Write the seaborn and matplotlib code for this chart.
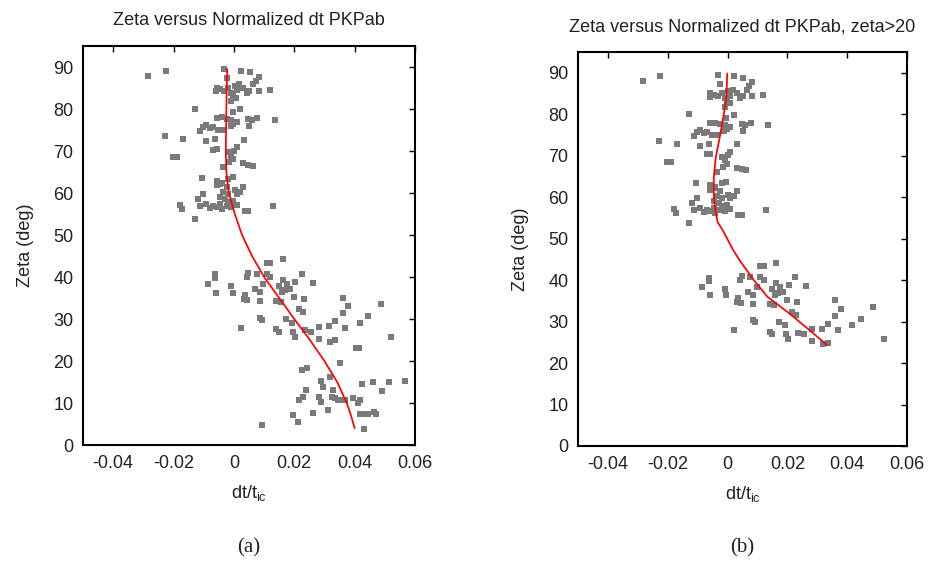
import matplotlib
matplotlib.use("Agg")
import matplotlib.pyplot as plt
import pandas as pd
import seaborn as sns

# ---------------- data ----------------
dt = [
    -0.0284, -0.0225, -0.0033, 0.0023, 0.0053, 0.0083, -0.0024,
    -0.0057, -0.0060, -0.0046, -0.0033, -0.0019, -0.0008, 0.0003, 0.0009, 0.0018, 0.0031,
    0.0042, 0.0051, 0.0064, 0.0072, 0.0083, 0.0119, -0.0002, -0.0008, 0.0007,
    -0.0129, 0.0020, -0.0004,
    -0.0057, -0.0041, -0.0024, -0.0008, -0.0002, 0.0009, -0.0011, 0.0047, 0.0059, 0.0077,
    0.0051, 0.0136, -0.0091, -0.0102, -0.0080, -0.0068, -0.0052, -0.0035, -0.0113,
    -0.0229, -0.0168, -0.0091, -0.0061, 0.0033,
    0.0009, 0.0001, -0.0068, -0.0057, -0.0019, -0.0008, -0.0002, -0.0015, -0.0201, -0.0190,
    0.0031, 0.0047, 0.0062, -0.0035,
    -0.0107, -0.0057, -0.0041, -0.0019, -0.0004, -0.0057, -0.0046, -0.0024, 0.0031, 0.0020,
    0.0003, -0.0035, -0.0019, 0.0009, -0.0102, -0.0118, -0.0046, -0.0030, -0.0019, -0.0002,
    -0.0179, -0.0173, -0.0113, -0.0091, -0.0080, -0.0068, -0.0046, -0.0024, -0.0008, 0.0009,
    0.0128, 0.0036, 0.0047, -0.0057, -0.0041, -0.0129,
    0.0108, 0.0121, -0.0063, -0.0063, -0.0085, -0.0060, -0.0008, -0.0004, 0.0042, 0.0047,
    0.0075, 0.0108, 0.0121, 0.0097, 0.0070, 0.0086, 0.0036, 0.0033, 0.0044, 0.0086,
    0.0141, 0.0086, 0.0092, 0.0023, 0.0141, 0.0092,
    0.0161, 0.0163, 0.0175, 0.0186, 0.0158, 0.0169, 0.0150, 0.0204, 0.0225, 0.0263,
    0.0199, 0.0233, 0.0155, 0.0217, 0.0230, 0.0172, 0.0191, 0.0150, 0.0197, 0.0202,
    0.0235, 0.0257, 0.0283, 0.0283, 0.0318, 0.0335, 0.0316, 0.0335, 0.0360, 0.0368,
    0.0360, 0.0379, 0.0417, 0.0445, 0.0486, 0.0522, 0.0406, 0.0415,
    0.0225, 0.0241, 0.0351, 0.0290, 0.0296, 0.0318, 0.0239, 0.0230, 0.0217, 0.0283,
    0.0287, 0.0324, 0.0335, 0.0346, 0.0357, 0.0368, 0.0329, 0.0393, 0.0417, 0.0412,
    0.0423, 0.0462, 0.0490, 0.0515, 0.0567, 0.0261, 0.0311, 0.0197, 0.0211, 0.0417,
    0.0434, 0.0445, 0.0464, 0.0471, 0.0432,
]
zeta = [
    87.9, 89.1, 89.5, 89.1, 88.7, 87.7, 87.3,
    85.1, 84.2, 84.7, 84.3, 85.0, 83.9, 85.5, 84.5, 85.9, 85.1,
    83.9, 84.3, 85.9, 86.7, 84.3, 84.6, 83.1, 81.8, 82.7,
    80.0, 79.9, 79.2,
    77.8, 78.0, 77.6, 77.4, 76.4, 76.8, 76.0, 77.6, 77.4, 77.8,
    76.0, 77.4, 76.2, 75.6, 75.5, 75.6, 75.0, 75.1, 74.8,
    73.6, 72.8, 72.3, 72.8, 72.7,
    71.0, 70.1, 70.3, 70.4, 69.7, 68.9, 68.1, 67.3, 68.5, 68.5,
    67.1, 66.7, 66.5, 66.1,
    63.5, 62.9, 62.5, 63.3, 63.7, 61.8, 62.2, 61.4, 61.4, 60.2,
    60.6, 60.2, 59.8, 59.8, 59.8, 58.6, 59.0, 58.6, 57.8, 58.2,
    57.2, 56.2, 56.8, 57.4, 56.5, 56.8, 57.4, 57.0, 56.6, 57.2,
    57.0, 55.8, 55.7, 56.6, 56.2, 53.8,
    43.4, 43.4, 40.6, 39.7, 38.4, 36.3, 37.8, 36.3, 40.0, 40.9,
    40.8, 40.8, 40.0, 38.4, 37.2, 36.4, 35.6, 34.7, 34.6, 34.3,
    34.3, 30.3, 29.8, 27.9, 27.6, 4.8,
    44.2, 39.2, 38.4, 37.2, 36.4, 37.0, 37.8, 38.8, 40.8, 38.6,
    35.2, 34.8, 34.0, 32.3, 31.7, 29.9, 29.1, 26.9, 26.9, 25.7,
    27.3, 26.9, 28.1, 25.3, 24.5, 24.9, 28.3, 29.5, 31.4, 27.9,
    35.1, 33.0, 29.1, 30.6, 33.6, 25.7, 23.2, 23.2,
    17.8, 18.4, 19.6, 15.2, 13.9, 16.1, 13.1, 11.5, 10.7, 11.5,
    10.3, 11.5, 11.1, 10.8, 10.7, 10.8, 13.1, 11.2, 10.7, 9.9,
    14.5, 15.0, 12.8, 15.0, 15.3, 7.7, 8.3, 7.1, 5.4, 7.4,
    7.4, 7.5, 7.9, 7.3, 3.7,
]

# fitted curves
fit_a_zeta = [89.5, 85, 80, 75, 70, 65, 60, 55, 50, 45, 40, 35, 30, 25, 20,
              15, 10, 7, 4]
fit_a_dt = [-0.0022, -0.0024, -0.0025, -0.0026, -0.0027, -0.0025, -0.0017, 0.0003,
            0.0027, 0.0060, 0.0100, 0.0150, 0.0200, 0.0252, 0.0300, 0.0342,
            0.0374, 0.0388, 0.0400]
fit_b_zeta = [89.8, 84.2, 80.2, 74.5, 69.7, 64.9, 60.1, 56.5, 54.0, 52.0, 47.2,
              44.4, 40.0, 36.0, 32.0, 28.0, 24.3]
fit_b_dt = [-0.0001, -0.0004, -0.0012, -0.0026, -0.0039, -0.0046, -0.0046, -0.0040,
            -0.0033, -0.0016, 0.0019, 0.0044, 0.0088, 0.0133, 0.0206, 0.0273, 0.0333]

zeta_cut = 24  # points kept in panel (b)

x_ticks = [-0.04, -0.02, 0.0, 0.02, 0.04, 0.06]
x_tick_labels = ["-0.04", "-0.02", "0", "0.02", "0.04", "0.06"]
y_ticks = [0, 10, 20, 30, 40, 50, 60, 70, 80, 90]
y_tick_labels = ["0", "10", "20", "30", "40", "50", "60", "70", "80", "90"]
titles = ["Zeta versus Normalized dt PKPab", "Zeta versus Normalized dt PKPab, zeta>20"]
captions = ["(a)", "(b)"]

# ---------------- styling ----------------
sns.set_theme(style="white")
plt.rcParams["font.family"] = ["Liberation Sans", "DejaVu Sans"]
plt.rcParams["mathtext.fontset"] = "custom"
plt.rcParams["mathtext.rm"] = "Liberation Sans"
plt.rcParams["mathtext.it"] = "Liberation Sans"
plt.rcParams["text.color"] = "#222222"
plt.rcParams["axes.labelcolor"] = "#222222"

df = pd.DataFrame({"dt": dt, "zeta": zeta})
df_b = df[df["zeta"] > zeta_cut]

fig = plt.figure(figsize=(9.3, 5.64), dpi=100)
ax_a = fig.add_axes([83 / 930, 119 / 564, 332 / 930, 399 / 564])
ax_b = fig.add_axes([578 / 930, 118 / 564, 329 / 930, 394 / 564])

panels = [
    (ax_a, df, fit_a_dt, fit_a_zeta),
    (ax_b, df_b, fit_b_dt, fit_b_zeta),
]

for i, (ax, d, fdt, fz) in enumerate(panels):
    sns.scatterplot(data=d, x="dt", y="zeta", ax=ax, marker="s", s=25,
                    color="#7a7a7a", linewidth=0, legend=False, zorder=2)
    sns.lineplot(x=fdt, y=fz, ax=ax, sort=False, estimator=None,
                 color="#ff0000", linewidth=1.25, zorder=3)
    ax.set_xlim(-0.05, 0.06)
    ax.set_ylim(0, 95)
    ax.set_xticks(x_ticks)
    ax.set_xticklabels(x_tick_labels)
    ax.set_yticks(y_ticks)
    ax.set_yticklabels(y_tick_labels)
    ax.tick_params(direction="in", top=True, right=True, length=4, width=1,
                   colors="black", labelcolor="#222222", labelsize=13, pad=7)
    for sp in ax.spines.values():
        sp.set_color("black")
        sp.set_linewidth(1.5)
    ax.set_xlabel("dt/t$_{\\mathrm{ic}}$", fontsize=13, labelpad=8)
    ax.set_ylabel("Zeta (deg)", fontsize=13, labelpad=14)
    ax.set_title(titles[i], fontsize=13, pad=15)
    ax.grid(False)

    pos = ax.get_position()
    fig.text((pos.x0 + pos.x1) / 2, 1 - 548 / 564, captions[i],
             ha="center", va="center", fontsize=15,
             family=["Liberation Serif", "DejaVu Serif"], color="#222222")

fig.savefig("out.png", dpi=100)
